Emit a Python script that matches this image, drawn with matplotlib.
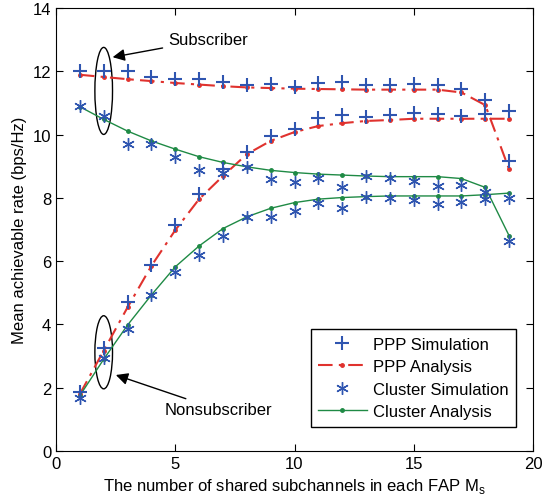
import matplotlib
matplotlib.use("Agg")
import matplotlib.pyplot as plt
from matplotlib.patches import Ellipse

plt.rcParams["font.family"] = ["Liberation Sans", "DejaVu Sans"]

ms = list(range(1, 20))

# subscriber curves
ppp_sim_sub = [12.0, 12.0, 12.0, 11.83, 11.77, 11.75, 11.66, 11.56, 11.59, 11.5,
               11.62, 11.66, 11.56, 11.56, 11.59, 11.56, 11.43, 11.09, 9.17]
ppp_ana_sub = [11.89, 11.82, 11.75, 11.69, 11.63, 11.58, 11.53, 11.49, 11.47, 11.45,
               11.44, 11.43, 11.42, 11.42, 11.42, 11.42, 11.33, 10.93, 8.9]
clu_sim_sub = [10.9, 10.59, 9.69, 9.69, 9.3, 8.87, 8.77, 8.98, 8.59, 8.5,
               8.62, 8.33, 8.69, 8.64, 8.54, 8.38, 8.4, 8.19, 6.64]
clu_ana_sub = [10.88, 10.48, 10.11, 9.8, 9.54, 9.3, 9.12, 8.98, 8.87, 8.8,
               8.75, 8.72, 8.69, 8.67, 8.67, 8.67, 8.61, 8.33, 6.8]

# nonsubscriber curves
ppp_sim_non = [1.85, 3.27, 4.71, 5.88, 7.14, 8.11, 8.9, 9.46, 9.96, 10.17,
               10.51, 10.61, 10.57, 10.61, 10.69, 10.64, 10.59, 10.64, 10.75]
ppp_ana_non = [1.8, 3.17, 4.54, 5.85, 6.98, 7.96, 8.69, 9.38, 9.8, 10.08,
               10.27, 10.36, 10.43, 10.46, 10.5, 10.5, 10.5, 10.5, 10.5]
clu_sim_non = [1.69, 2.93, 3.85, 4.93, 5.66, 6.2, 6.78, 7.4, 7.4, 7.57,
               7.83, 7.69, 8.04, 8.01, 7.93, 7.8, 7.87, 7.96, 8.01]
clu_ana_non = [1.75, 2.9, 3.98, 4.93, 5.82, 6.48, 7.03, 7.4, 7.67, 7.85,
               7.96, 8.01, 8.04, 8.06, 8.06, 8.06, 8.06, 8.1, 8.15]

blue = "#2f55b0"
red = "#e0322e"
green = "#1f8a45"

fig = plt.figure(figsize=(5.43, 5.02), dpi=100)
ax = fig.add_axes([56 / 543, 50 / 502, 477 / 543, 443 / 502])

for ana in [ppp_ana_sub, ppp_ana_non]:
    ax.plot(ms, ana, color=red, linestyle="-.", linewidth=1.5,
            marker=".", markersize=5, dashes=(7, 3, 1.5, 3))
for ana in [clu_ana_sub, clu_ana_non]:
    ax.plot(ms, ana, color=green, linestyle="-", linewidth=1.0,
            marker=".", markersize=5)
for sim in [ppp_sim_sub, ppp_sim_non]:
    ax.plot(ms, sim, linestyle="none", marker="+", color=blue,
            markersize=10, markeredgewidth=1.5)
for sim in [clu_sim_sub, clu_sim_non]:
    ax.plot(ms, sim, linestyle="none", marker=(6, 2, 0), color=blue,
            markersize=9, markeredgewidth=1.0)

# legend proxies
h1, = ax.plot([], [], linestyle="none", marker="+", color=blue,
              markersize=10, markeredgewidth=1.5)
h2, = ax.plot([], [], color=red, linestyle="-.", linewidth=1.5,
              marker=".", markersize=5, dashes=(7, 3, 1.5, 3))
h3, = ax.plot([], [], linestyle="none", marker=(6, 2, 0), color=blue,
              markersize=9, markeredgewidth=1.0)
h4, = ax.plot([], [], color=green, linewidth=1.0, marker=".", markersize=5)
leg = ax.legend([h1, h2, h3, h4],
                ["PPP Simulation", "PPP Analysis", "Cluster Simulation", "Cluster Analysis"],
                loc="lower right", bbox_to_anchor=(0.965, 0.055), borderaxespad=0,
                fontsize=12, fancybox=False, framealpha=1, edgecolor="black",
                handlelength=2.9, handletextpad=0.4, borderpad=0.45,
                labelspacing=0.45)
leg.get_frame().set_linewidth(1.0)

# annotations
ax.add_patch(Ellipse((2.0, 11.38), 0.74, 2.75, fill=False, edgecolor="black", linewidth=1))
ax.add_patch(Ellipse((2.0, 3.12), 0.74, 2.31, fill=False, edgecolor="black", linewidth=1))
arrow = dict(arrowstyle="-|>", color="black", linewidth=1, mutation_scale=18)
ax.annotate("Subscriber", xy=(2.26, 12.43), xytext=(4.7, 13.0), fontsize=12,
            ha="left", va="center", arrowprops=arrow)
ax.annotate("Nonsubscriber", xy=(2.4, 2.43), xytext=(4.57, 1.3), fontsize=12,
            ha="left", va="center", arrowprops=arrow)

ax.set_xlim(0, 20)
ax.set_ylim(0, 14)
ax.set_xticks([0, 5, 10, 15, 20])
ax.set_yticks(range(0, 15, 2))
ax.tick_params(direction="in", top=True, right=True, labelsize=12, length=5)
ax.set_xlabel("The number of shared subchannels in each FAP M$_\\mathregular{s}$", fontsize=12)
ax.set_ylabel("Mean achievable rate (bps/Hz)", fontsize=12)

fig.savefig("out.png", dpi=100)
